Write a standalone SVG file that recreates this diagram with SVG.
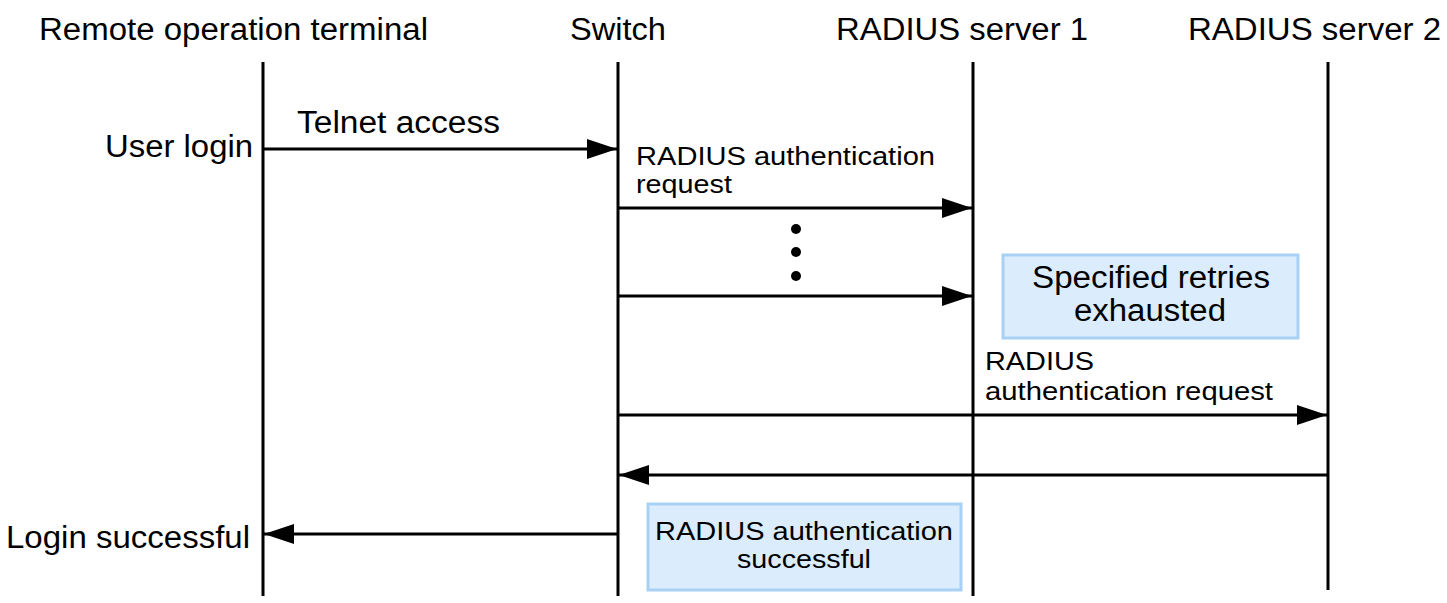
<svg xmlns="http://www.w3.org/2000/svg" width="1447" height="603" viewBox="0 0 1447 603">
<style>
text{font-family:"Liberation Sans",Arial,sans-serif;fill:#000}
.h{font-size:31px;text-anchor:middle}
.l{font-size:31px}
.s{font-size:26.5px}
.life{stroke:#000;stroke-width:3;fill:none}
.msg{stroke:#000;stroke-width:3;fill:none}
.box{fill:#dbecfd;stroke:#a9d1f5;stroke-width:3}
</style>
<defs>
<marker id="ah" markerWidth="30" markerHeight="20" refX="30" refY="10" orient="auto" markerUnits="userSpaceOnUse">
<path d="M0,0 L30,10 L0,20 Z" fill="#000"/>
</marker>
</defs>
<g id="lifelines">
<line class="life" x1="263" y1="62" x2="263" y2="596"/>
<line class="life" x1="618" y1="62" x2="618" y2="596"/>
<line class="life" x1="973" y1="62" x2="973" y2="596"/>
<line class="life" x1="1328" y1="62" x2="1328" y2="590"/>
</g>
<g id="headers">
<text class="h" x="233.5" y="40" textLength="389" lengthAdjust="spacingAndGlyphs">Remote operation terminal</text>
<text class="h" x="618" y="40" textLength="96" lengthAdjust="spacingAndGlyphs">Switch</text>
<text class="h" x="962" y="40" textLength="252" lengthAdjust="spacingAndGlyphs">RADIUS server 1</text>
<text class="h" x="1314.5" y="40" textLength="253" lengthAdjust="spacingAndGlyphs">RADIUS server 2</text>
</g>
<g id="connectors">
<line class="msg" x1="263" y1="149" x2="617" y2="149" marker-end="url(#ah)"/>
<line class="msg" x1="618" y1="208" x2="972" y2="208" marker-end="url(#ah)"/>
<line class="msg" x1="618" y1="296" x2="972" y2="296" marker-end="url(#ah)"/>
<line class="msg" x1="618" y1="415" x2="1327" y2="415" marker-end="url(#ah)"/>
<line class="msg" x1="1328" y1="475" x2="619" y2="475" marker-end="url(#ah)"/>
<line class="msg" x1="618" y1="534" x2="264" y2="534" marker-end="url(#ah)"/>
</g>
<g id="labels">
<text class="l" x="105" y="157" textLength="148" lengthAdjust="spacingAndGlyphs">User login</text>
<text class="l" x="297" y="133" textLength="203" lengthAdjust="spacingAndGlyphs">Telnet access</text>
<text class="s" x="636" y="165" textLength="299" lengthAdjust="spacingAndGlyphs">RADIUS authentication</text>
<text class="s" x="636" y="193" textLength="96" lengthAdjust="spacingAndGlyphs">request</text>
<text class="s" x="985" y="370" textLength="109" lengthAdjust="spacingAndGlyphs">RADIUS</text>
<text class="s" x="985" y="400" textLength="288" lengthAdjust="spacingAndGlyphs">authentication request</text>
<text class="l" x="6" y="548" textLength="244" lengthAdjust="spacingAndGlyphs">Login successful</text>
</g>
<g id="dots">
<circle cx="796" cy="229" r="5"/>
<circle cx="796" cy="252" r="5"/>
<circle cx="796" cy="276" r="5"/>
</g>
<g id="retries-box">
<rect class="box" x="1003" y="255" width="295" height="83"/>
<text class="h" x="1151" y="288" textLength="238" lengthAdjust="spacingAndGlyphs">Specified retries</text>
<text class="h" x="1150" y="321" textLength="152" lengthAdjust="spacingAndGlyphs">exhausted</text>
</g>
<g id="success-box">
<rect class="box" x="648" y="504" width="313" height="86"/>
<text class="s" x="804" y="540" text-anchor="middle" textLength="298" lengthAdjust="spacingAndGlyphs">RADIUS authentication</text>
<text class="s" x="804" y="568" text-anchor="middle" textLength="134" lengthAdjust="spacingAndGlyphs">successful</text>
</g>
</svg>
